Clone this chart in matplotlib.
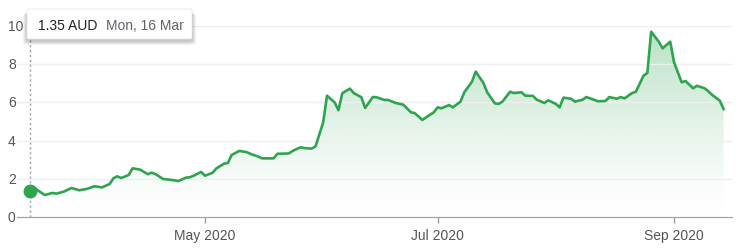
import matplotlib
matplotlib.use("Agg")
import matplotlib.pyplot as plt
import matplotlib.dates as mdates
import matplotlib.colors as mcolors
from matplotlib.patches import FancyBboxPatch
import numpy as np
import pandas as pd

plt.rcParams['font.family'] = ['Liberation Sans', 'DejaVu Sans']

# price history (2020)
dates = [
    "03-16", "03-17", "03-20", "03-22", "03-23", "03-25", "03-27", "03-29", "03-31",
    "04-02", "04-04", "04-06", "04-07", "04-08", "04-09", "04-11", "04-12", "04-14",
    "04-16", "04-17", "04-18", "04-20", "04-21", "04-23", "04-24", "04-26", "04-27",
    "04-28", "04-30", "05-01", "05-03", "05-04", "05-06", "05-07", "05-08", "05-10",
    "05-11", "05-12", "05-13", "05-15", "05-16", "05-17", "05-19", "05-20", "05-22",
    "05-23", "05-24", "05-26", "05-27", "05-29", "05-30", "06-01", "06-02", "06-04",
    "06-05", "06-06", "06-08", "06-09", "06-11", "06-12", "06-14", "06-15", "06-17",
    "06-18", "06-20", "06-22", "06-24", "06-25", "06-27", "06-28", "06-30", "07-01",
    "07-02", "07-04", "07-05", "07-07", "07-08", "07-10", "07-11", "07-13", "07-14",
    "07-16", "07-17", "07-18", "07-20", "07-21", "07-23", "07-24", "07-26", "07-27",
    "07-29", "07-30", "08-01", "08-02", "08-03", "08-05", "08-06", "08-08", "08-09",
    "08-11", "08-12", "08-14", "08-15", "08-17", "08-18", "08-19", "08-21", "08-22",
    "08-24", "08-25", "08-26", "08-28", "08-29", "08-31", "09-01", "09-03", "09-04",
    "09-06", "09-07", "09-09", "09-10", "09-11", "09-13", "09-14",
]
prices = [
    1.35, 1.55, 1.15, 1.26, 1.22, 1.33, 1.52, 1.40, 1.47,
    1.61, 1.55, 1.73, 2.03, 2.13, 2.04, 2.20, 2.55, 2.48,
    2.24, 2.32, 2.25, 1.99, 1.97, 1.92, 1.88, 2.06, 2.08,
    2.16, 2.36, 2.16, 2.32, 2.55, 2.79, 2.83, 3.25, 3.46,
    3.43, 3.39, 3.30, 3.16, 3.07, 3.07, 3.07, 3.31, 3.32,
    3.33, 3.46, 3.65, 3.61, 3.58, 3.70, 4.96, 6.35, 6.00,
    5.59, 6.48, 6.72, 6.49, 6.27, 5.71, 6.28, 6.27, 6.13,
    6.13, 5.97, 5.88, 5.48, 5.44, 5.08, 5.22, 5.48, 5.74,
    5.69, 5.86, 5.74, 6.04, 6.53, 7.08, 7.61, 7.02, 6.53,
    5.95, 5.92, 6.04, 6.56, 6.49, 6.53, 6.35, 6.34, 6.14,
    5.97, 6.11, 5.92, 5.74, 6.25, 6.19, 6.04, 6.14, 6.28,
    6.14, 6.06, 6.07, 6.28, 6.19, 6.28, 6.21, 6.49, 6.56,
    7.40, 7.54, 9.70, 9.18, 8.83, 9.18, 8.10, 7.05, 7.12,
    6.74, 6.87, 6.74, 6.58, 6.39, 6.09, 5.65,
]
yticks = [0, 2, 4, 6, 8, 10]
currency = "AUD"

green = "#2ea44f"
x = pd.to_datetime(["2020-" + d for d in dates])
xn = mdates.date2num(x)

W, H = 744, 251
fig = plt.figure(figsize=(W / 100, H / 100), dpi=100)
ax = fig.add_axes([17 / W, 33 / H, (732 - 17) / W, (218 - 27) / H])

# gradient fill under the line
rgba = np.zeros((256, 1, 4))
rgba[..., :3] = mcolors.to_rgb(green)
rgba[:, 0, 3] = np.linspace(0, 1, 256) ** 1.3 * 0.34
im = ax.imshow(rgba, extent=[xn[0], xn[-1], 0, 10], origin='lower',
               aspect='auto', zorder=1, interpolation='bilinear')
poly = ax.fill_between(x, prices, 0, facecolor='none', edgecolor='none')
im.set_clip_path(poly.get_paths()[0], transform=ax.transData)

ax.plot(x, prices, color=green, lw=1.9, zorder=3, solid_joinstyle='round')
ax.plot(x[0], prices[0], 'o', color=green, ms=9, zorder=4)

# hover guide
ax.axvline(x[0], ymin=0, ymax=(218 - 40) / (218 - 27), color='#9e9e9e',
           lw=1, ls=(0, (1.5, 2)), zorder=2)

ax.set_ylim(0, 10)
ax.set_xlim(xn[0] - 3.3, xn[0] + 184.2)
ax.set_yticks(yticks)
ax.set_yticklabels([])
ax.tick_params(axis='y', length=0)
ax.grid(axis='y', color='#efefef', lw=1, zorder=0)
for v in yticks:
    ax.text(-9 / 715, v, str(v), transform=ax.get_yaxis_transform(),
            ha='left', va='center', fontsize=10, color='#555555', zorder=5,
            bbox=dict(boxstyle='square,pad=0.1', fc='white', ec='none'))

ax.xaxis.set_major_locator(mdates.MonthLocator(bymonth=[5, 7, 9]))
ax.xaxis.set_major_formatter(mdates.DateFormatter('%b %Y'))
ax.tick_params(axis='x', length=4, width=1, color='#9e9e9e', pad=4,
               labelsize=10, labelcolor='#555555')
for s in ['top', 'right', 'left']:
    ax.spines[s].set_visible(False)
ax.spines['bottom'].set_color('#9e9e9e')
ax.spines['bottom'].set_zorder(5)

# tooltip box with soft shadow
bx, by, bw, bh = 27 / W, 1 - 40 / H, 165 / W, 30 / H
for i, a in enumerate([0.05, 0.05, 0.06, 0.07]):
    off = (4 - i) / W
    fig.patches.append(FancyBboxPatch((bx - off, by - (6 - i) / H), bw + 2 * off, bh + off,
                                      boxstyle='round,pad=0,rounding_size=0.008',
                                      transform=fig.transFigure, fc='black', ec='none',
                                      alpha=a, zorder=8))
fig.patches.append(FancyBboxPatch((bx, by), bw, bh,
                                  boxstyle='round,pad=0,rounding_size=0.004',
                                  transform=fig.transFigure, fc='white', ec='#e6e6e6',
                                  lw=0.5, zorder=9))
fig.text(38 / W, 1 - 26 / H, f"{prices[0]:.2f} {currency}", fontsize=10,
         color='#202124', va='center', ha='left', zorder=10)
fig.text(106 / W, 1 - 26 / H, x[0].strftime('%a, %-d %b'), fontsize=10,
         color='#5f6368', va='center', ha='left', zorder=10)

fig.savefig('out.png', dpi=100)
